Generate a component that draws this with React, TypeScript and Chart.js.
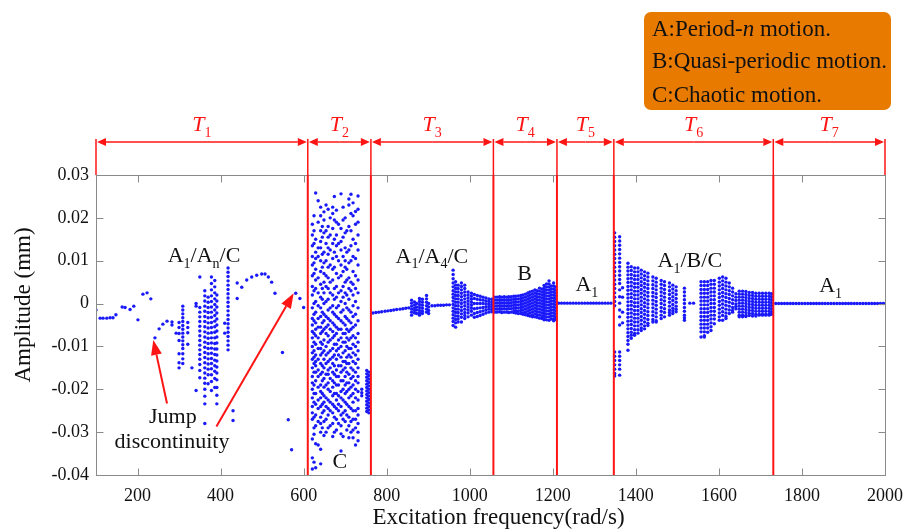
import React, { useEffect, useRef } from 'react';
import { Chart, registerables } from 'chart.js';

Chart.register(...registerables);

const FONT = "'Liberation Serif', 'Times New Roman', Times, serif";

// ---------- axes ----------
const xTickValues = [200, 400, 600, 800, 1000, 1200, 1400, 1600, 1800, 2000];
const xTickLabels = ['200', '400', '600', '800', '1000', '1200', '1400', '1600', '1800', '2000'];
const yTickValues = [-0.04, -0.03, -0.02, -0.01, 0, 0.01, 0.02, 0.03];
const yTickLabels = ['-0.04', '-0.03', '-0.02', '-0.01', '0', '0.01', '0.02', '0.03'];

// ---------- regions T1..T7 (boundaries in rad/s) ----------
const regionBounds = [100, 610, 762, 1057, 1210, 1347, 1731, 2000];
const regionIndex = ['1', '2', '3', '4', '5', '6', '7'];

// ---------- bifurcation data: amplitude values in 1e-3 mm, one list per frequency ----------
const t1X = [100, 110, 117, 126, 134, 141, 148, 163, 170, 182, 191, 201, 213, 223, 232, 242, 252, 261, 271, 283, 293, 300, 309, 321, 331, 341, 350, 362, 370, 378, 386, 391, 410, 418, 430, 440, 451, 463, 475, 487, 499, 507, 515, 523, 531, 549, 563, 571, 581, 591, 600];
const t1Y = [
  [-1.5], [-3.4], [-3.4], [-3.4], [-3.3], [-3.3], [-2.6], [-0.8], [-0.9], [-1.4], [-0.6], [-3.8],
  [2.2], [2.5], [1.1], [-8.0], [-5.9], [-4.8], [-4.1], [-4.3, -5.0], [-6.9],
  [-4.4, -5.6, -7.0, -8.6, -11.7, -13.8, -15.0],
  [-0.6, -1.5, -2.4, -3.3, -4.2, -5.1, -6.0, -6.9, -7.8, -8.7, -9.6, -10.5, -11.7, -12.9, -14.0],
  [-4.4, -5.6, -6.8, -9.5],
  [-15.0],
  [0.0, -0.6, -20.3],
  [6.2, -0.9, -2.0, -3.1, -4.2, -5.3, -6.4, -7.5, -8.6, -9.7, -10.8, -11.9, -13.0, -14.2, -15.6, -17.3],
  [3.0, 1.8, 0.6, -0.6, -1.8, -3.0, -4.2, -5.4, -6.6, -7.8, -9.0, -10.2, -11.4, -12.6, -13.8, -15.0, -16.2, -17.4, -18.6, -20.0, -21.6, -23.4, -28.0],
  [1.5, 0.3, -0.9, -2.1, -3.3, -4.5, -5.7, -6.9, -8.1, -9.3, -10.5, -11.7, -12.9, -14.1, -15.3, -16.6, -18.7],
  [6.2, 4.7, 3.2, 1.8, 0.5, -0.8, -2.0, -3.2, -4.4, -5.6, -6.8, -8.0, -9.2, -10.4, -11.6, -12.8, -14.0, -15.2, -16.6, -18.2, -20.3],
  [5.4, 3.9, 2.5, 1.1, -0.2, -1.5, -2.8, -4.1, -5.4, -6.7, -8.0, -9.3, -10.6, -11.9, -13.2, -14.5, -15.8, -17.5, -19.6],
  [2.0, 0.6, -0.8, -2.2, -3.6, -5.0, -6.4, -7.8, -9.2, -10.6, -12.0, -13.4, -14.8, -16.2, -17.8, -19.6, -21.4, -23.4],
  [-4.6, -6.9],
  [8.3, 7.3, 6.3, 5.3, 4.3, 3.3, 2.3, 1.3, 0.3, -0.7, -1.7, -2.7, -3.7, -4.7, -5.7, -6.7, -7.7, -8.7, -9.7, -10.8],
  [-25.0, -27.3],
  [4.8, 1.2],
  [3.8], [5.5], [6.2], [6.6], [6.9], [6.9], [6.2], [5.0], [2.4],
  [-11.4], [-27.1], [-34.1], [2.4], [1.2], [-0.9],
];

const t2X = [621, 625, 629, 635, 641, 645, 649, 654, 659, 664, 670, 674, 679, 684, 690, 695, 700, 704, 709, 714, 719, 725, 731, 740, 752, 757];
const t2Y = [
  [18.5, 16.0, 13.5, 11.0, 9.0, 6.5, 4.0, 2.0, -1.0, -3.5, -5.0, -6.5, -8.0, -10.0, -11.5, -13.0, -15.0, -17.0, -18.5, -20.0, -22.0, -24.0, -25.5, -27.0, -31.6, -36.0, -38.6],
  [20.5, 17.0, 14.0, 9.5, 7.0, 3.0, 0.0, -2.5, -4.0, -7.0, -9.0, -11.0, -12.5, -14.0, -16.0, -19.0, -21.0, -23.0, -26.5, -29.0, -30.5, -37.0],
  [25.8, 15.0, 12.0, 10.5, 8.0, 5.5, 3.5, 0.5, -2.0, -4.5, -6.0, -7.5, -9.5, -12.0, -13.5, -14.5, -16.0, -18.0, -21.0, -23.5, -26.0, -28.5, -32.7, -38.3],
  [24.0, 19.0, 13.0, 11.0, 6.0, 2.5, -0.5, -3.5, -5.5, -8.0, -10.5, -13.0, -15.5, -17.0, -19.5, -22.5, -24.5, -27.5, -33.0],
  [22.5, 20.5, 17.0, 14.5, 13.0, 10.0, 7.5, 4.5, 1.5, -1.0, -3.0, -5.5, -7.0, -9.0, -10.5, -12.0, -14.0, -16.5, -19.0, -20.5, -22.0, -24.0, -26.5, -28.0, -30.0, -34.0, -37.4],
  [18.0, 15.5, 11.5, 8.5, 3.5, 1.0, -2.0, -4.5, -6.5, -9.5, -11.5, -14.5, -16.0, -18.0, -21.0, -23.5, -25.5, -29.0],
  [21.4, 19.5, 16.5, 12.0, 9.5, 7.0, 5.0, 2.5, 0.0, -2.5, -4.0, -6.0, -8.5, -11.0, -13.0, -15.0, -17.5, -19.5, -21.5, -23.0, -25.0, -27.5, -30.8],
  [23.0, 17.0, 14.0, 10.0, 6.5, 4.0, 0.5, -3.0, -5.5, -7.0, -10.0, -12.0, -14.0, -16.5, -19.0, -22.0, -24.0, -27.0, -30.0],
  [22.0, 18.0, 15.5, 13.0, 11.5, 8.5, 6.0, 3.5, 1.0, -1.5, -3.5, -5.0, -7.5, -9.0, -11.5, -13.5, -15.5, -16.5, -18.5, -20.0, -22.5, -24.5, -26.0, -29.0],
  [20.0, 16.0, 12.5, 9.0, 5.0, 2.5, -1.0, -4.0, -6.0, -8.5, -11.0, -13.0, -15.0, -17.5, -20.5, -23.0, -25.0, -28.5],
  [22.5, 21.0, 17.5, 14.0, 10.5, 8.0, 5.5, 2.0, -0.5, -2.0, -4.5, -6.5, -8.0, -10.5, -12.5, -14.0, -16.0, -18.0, -19.5, -21.5, -23.5, -25.5, -28.0, -31.0],
  [25.0, 19.5, 15.0, 12.0, 8.5, 3.5, 1.0, -2.5, -5.0, -7.5, -9.5, -12.0, -14.5, -16.5, -18.5, -21.0, -24.0, -26.5, -30.0],
  [21.8, 19.0, 16.0, 13.5, 11.0, 7.0, 4.0, 1.5, -1.0, -3.0, -5.5, -7.0, -9.5, -11.0, -13.0, -15.5, -17.0, -19.0, -21.0, -22.5, -24.5, -27.0, -29.5],
  [18.5, 14.0, 10.0, 6.0, 2.5, -0.5, -3.5, -6.0, -8.5, -10.5, -12.0, -14.5, -17.0, -19.0, -21.5, -23.5, -25.0, -28.0],
  [25.6, 17.5, 14.5, 12.5, 9.0, 6.5, 3.0, 0.5, -2.0, -4.0, -6.0, -8.0, -10.0, -12.5, -14.5, -16.0, -18.0, -20.5, -22.0, -24.0, -26.0, -28.5, -30.4, -34.4],
  [22.5, 19.5, 15.5, 11.0, 7.5, 4.0, 1.5, -1.5, -4.5, -7.0, -9.0, -11.5, -13.5, -15.5, -18.0, -20.0, -22.5, -25.5, -27.0, -31.0],
  [20.0, 16.5, 13.0, 10.0, 8.5, 5.0, 2.5, 0.0, -3.0, -5.0, -7.0, -9.0, -11.0, -13.5, -15.0, -17.0, -19.0, -21.0, -23.0, -25.0, -27.5],
  [17.0, 12.0, 8.0, 5.5, 2.0, -1.0, -3.5, -6.0, -8.0, -10.0, -12.5, -14.0, -16.0, -18.5, -20.5, -23.5, -26.0, -29.5],
  [24.4, 23.0, 18.0, 12.5, 9.5, 6.0, 3.5, 1.0, -1.5, -4.0, -6.5, -8.5, -10.5, -12.0, -14.0, -16.5, -18.5, -20.0, -22.0, -24.0, -26.5, -28.5, -31.3],
  [25.5, 21.0, 17.0, 13.5, 10.0, 5.0, 3.0, -2.0, -4.5, -6.0, -8.0, -10.5, -12.5, -15.0, -17.5, -19.5, -21.5, -24.5, -27.5, -30.0],
  [23.5, 20.5, 15.0, 11.0, 7.5, 4.5, 2.0, -0.5, -3.0, -5.5, -7.5, -9.5, -11.5, -13.5, -15.5, -17.0, -19.0, -21.0, -23.0, -25.0, -27.0, -29.5, -31.3],
  [21.5, 18.5, 14.0, 10.5, 6.5, 3.5, 0.5, -2.5, -5.0, -8.0, -10.0, -12.0, -14.0, -16.0, -18.0, -20.0, -22.0, -25.0, -27.0, -29.0, -33.0],
  [25.1, 22.0, 19.0, 16.0, 12.5, 9.0, 5.5, 2.5, -1.0, -4.0, -7.0, -9.0, -11.0, -13.0, -15.0, -17.0, -18.5, -20.5, -22.5, -24.5, -26.0, -28.0, -30.0, -32.0],
  [-20.0, -20.8, -21.5],
  [-15.6, -16.4, -17.2, -18.0, -18.8, -19.6, -20.4, -21.2, -22.0, -22.8, -23.6, -24.4, -25.2],
  [-16.0, -16.8, -17.6, -18.4, -19.2, -20.0, -20.8, -21.6, -22.4, -23.2, -24.0, -24.8, -25.5],
];

const t3X = [767, 774, 781, 788, 796, 803, 810, 817, 824, 832, 839, 846, 853, 860, 867, 872, 879, 886, 896, 901, 909, 916, 923, 930, 937, 944, 951, 960, 966, 972, 980, 988, 996, 1004, 1011, 1018, 1025, 1032, 1039, 1046, 1053];
const t3Y = [
  [-2.2], [-2.1], [-2.0], [-1.9], [-1.8], [-1.7], [-1.6], [-1.5], [-1.4], [-1.3], [-1.2], [-1.1], [-1.0],
  [0.8, 0.1, -0.6, -1.3, -2.0, -2.7],
  [0.4, -0.3, -1.0, -1.6, -2.2],
  [0.0, -0.8, -1.5, -2.3],
  [1.2, 0.5, -0.2, -0.9, -1.6, -2.2, -2.7],
  [1.0, 0.3, -0.4, -1.1, -1.8, -2.3],
  [1.9, 1.1, 0.3, -0.5, -1.3, -2.0],
  [0.0, -0.8, -1.6, -2.3],
  [-0.5], [-0.5], [-0.4], [-0.4], [-0.4], [-0.3], [-0.3],
  [7.8, 6.8, 5.8, 4.8, 3.9, 3.0, 2.2, 1.4, 0.6, -0.2, -1.0, -1.8, -2.6, -3.4, -4.2, -5.1],
  [5.1, 4.3, 3.5, 2.7, 1.9, 1.1, 0.3, -0.5, -1.3, -2.1, -2.9, -3.7, -4.5, -5.5],
  [4.3, 3.5, 2.7, 1.9, 1.1, 0.3, -0.5, -1.3, -2.1, -2.9, -3.6, -4.3],
  [4.8, 4.0, 3.2, 2.4, 1.6, 0.8, 0.0, -0.8, -1.6, -2.4, -3.2, -4.3],
  [4.3, 3.5, 2.7, 1.9, 1.1, 0.3, -0.5, -1.3, -2.1, -2.8, -3.5],
  [2.7, 2.0, 1.3, 0.6, -0.1, -0.8, -1.5, -2.2, -3.1],
  [2.4, 1.7, 1.0, 0.3, -0.4, -1.1, -1.8, -2.7],
  [2.1, 1.2, 0.0, -1.2, -2.3, -3.2],
  [1.9, 1.0, 0.0, -1.1, -2.1, -3.0],
  [1.7, 0.9, 0.0, -1.0, -1.9, -2.8],
  [1.5, 0.8, 0.0, -0.9, -1.7, -2.5],
  [1.3, 0.6, -0.1, -0.8, -1.5, -2.2],
  [1.1, 0.5, -0.1, -0.7, -1.3, -2.0],
  [1.0, 0.4, -0.2, -0.8, -1.4, -1.9],
];

const t4X = [1060, 1066, 1072, 1077, 1083, 1089, 1094, 1100, 1106, 1111, 1117, 1123, 1128, 1134, 1140, 1145, 1151, 1157, 1162, 1168, 1174, 1179, 1185, 1191, 1196, 1202, 1207];
const t4Y = [
  [1.5, 0.8, 0.1, -0.6, -1.3, -2.0],
  [1.5, 0.8, 0.1, -0.6, -1.3, -2.0],
  [1.6, 0.9, 0.2, -0.5, -1.2, -1.9],
  [1.5, 0.8, 0.1, -0.6, -1.3, -2.1],
  [1.6, 0.9, 0.2, -0.5, -1.2, -2.0],
  [1.5, 0.8, 0.1, -0.6, -1.3, -2.0],
  [1.6, 0.9, 0.2, -0.5, -1.2, -2.1],
  [1.6, 0.9, 0.2, -0.5, -1.2, -2.0],
  [1.7, 1.0, 0.3, -0.4, -1.1, -1.8, -2.1],
  [1.7, 1.0, 0.3, -0.4, -1.1, -1.8, -2.2],
  [1.8, 1.1, 0.4, -0.3, -1.0, -1.7, -2.3],
  [1.9, 1.2, 0.5, -0.2, -0.9, -1.6, -2.3],
  [2.0, 1.3, 0.6, -0.1, -0.8, -1.5, -2.2, -2.5],
  [2.2, 1.5, 0.8, 0.1, -0.6, -1.3, -2.0, -2.6],
  [2.5, 1.8, 1.1, 0.4, -0.3, -1.0, -1.7, -2.4, -2.8],
  [2.7, 2.0, 1.3, 0.6, -0.1, -0.8, -1.5, -2.2, -2.9],
  [2.9, 2.2, 1.5, 0.8, 0.1, -0.6, -1.3, -2.0, -2.7, -3.1],
  [3.2, 2.5, 1.8, 1.1, 0.4, -0.3, -1.0, -1.7, -2.4, -3.1],
  [3.0, 2.3, 1.6, 0.9, 0.2, -0.5, -1.2, -1.9, -2.6, -3.2],
  [3.6, 2.9, 2.2, 1.5, 0.8, 0.1, -0.6, -1.3, -2.0, -2.7, -3.4],
  [3.4, 2.7, 2.0, 1.3, 0.6, -0.1, -0.8, -1.5, -2.2, -2.9, -3.5],
  [4.2, 3.5, 2.8, 2.1, 1.4, 0.7, 0.0, -0.7, -1.4, -2.1, -2.8, -3.5, -3.8],
  [4.6, 3.9, 3.2, 2.5, 1.8, 1.1, 0.4, -0.3, -1.0, -1.7, -2.4, -3.1, -3.8],
  [5.3, 4.6, 3.9, 3.2, 2.5, 1.8, 1.1, 0.4, -0.3, -1.0, -1.7, -2.4, -3.1, -3.9],
  [4.1, 3.4, 2.7, 2.0, 1.3, 0.6, -0.1, -0.8, -1.5, -2.2, -2.9, -3.6],
  [4.8, 4.1, 3.4, 2.7, 2.0, 1.3, 0.6, -0.1, -0.8, -1.5, -2.2, -2.9, -3.6, -4.0],
  [3.9, 3.2, 2.5, 1.8, 1.1, 0.4, -0.3, -1.0, -1.7, -2.4, -3.1, -3.7],
];

const t5X = [1214, 1221, 1228, 1235, 1242, 1249, 1256, 1263, 1270, 1277, 1284, 1291, 1298, 1305, 1312, 1319, 1326, 1333, 1340];
const t5Y = [0.1, 0.1, 0.1, 0.1, 0.1, 0.1, 0.1, 0.1, 0.1, 0.1, 0.1, 0.1, 0.1, 0.1, 0.1, 0.1, 0.1, 0.1, 0.1];

const t6X = [1349, 1361, 1368, 1381, 1389, 1397, 1405, 1413, 1421, 1429, 1441, 1449, 1461, 1469, 1481, 1489, 1497, 1517, 1530, 1539, 1557, 1565, 1573, 1581, 1589, 1601, 1609, 1617, 1625, 1633, 1641, 1649, 1657, 1665, 1673, 1681, 1689, 1697, 1705, 1713, 1721, 1727];
const t6Y = [
  [16.5, 15.5, 14.5, 13.5, 12.5, 11.5, 10.5, 9.5, 8.5, 7.5, 6.5, 5.5, 4.5, 3.5, 2.5, 1.5, 0.5, -0.5, -11.3, -12.3, -13.3, -14.3, -15.3, -16.3, -16.9],
  [15.6, 14.6, 13.6, 12.6, 11.6, 10.6, 9.6, 8.6, 7.6, 6.6, 5.6, 4.7, 3.2, 1.6, 0.1, -1.5, -3.1, -5.0, -11.3, -12.3, -13.3, -14.3, -15.3, -16.7],
  [3.7, 1.5, -2.0, -4.5],
  [9.4, 8.5, 7.6, 6.7, 5.8, 4.9, 4.0, 3.1, 2.2, 1.3, 0.4, -0.5, -1.4, -2.3, -3.2, -4.1, -5.0, -5.9, -6.8, -7.7, -8.6, -9.5, -10.9],
  [8.6, 7.7, 6.8, 5.9, 5.0, 4.1, 3.2, 2.3, 1.4, 0.5, -0.4, -1.3, -2.2, -3.1, -4.0, -4.9, -5.8, -6.7, -7.4, -8.1],
  [8.3, 7.4, 6.5, 5.6, 4.7, 3.8, 2.9, 2.0, 1.1, 0.2, -0.7, -1.6, -2.5, -3.4, -4.3, -5.2, -6.1, -7.0, -7.4],
  [8.3, 7.4, 6.5, 5.6, 4.7, 3.8, 2.9, 2.0, 1.1, 0.2, -0.7, -1.6, -2.5, -3.4, -4.3, -5.2, -6.1, -6.9],
  [7.8, 6.9, 6.0, 5.1, 4.2, 3.3, 2.4, 1.5, 0.6, -0.3, -1.2, -2.1, -3.0, -3.9, -4.8, -5.7, -6.3],
  [7.4, 6.5, 5.6, 4.7, 3.8, 2.9, 2.0, 1.1, 0.2, -0.7, -1.6, -2.5, -3.4, -4.3, -5.2, -5.9],
  [7.1, 6.2, 5.3, 4.4, 3.5, 2.6, 1.7, 0.8, -0.1, -1.0, -1.9, -2.8, -3.7, -4.6, -5.1],
  [6.2, 5.3, 4.4, 3.5, 2.6, 1.7, 0.8, -0.1, -1.0, -1.9, -2.8, -3.7, -4.3],
  [5.9, 5.0, 4.1, 3.2, 2.3, 1.4, 0.5, -0.4, -1.3, -2.2, -3.1, -4.0, -4.3],
  [5.4, 4.5, 3.6, 2.7, 1.8, 0.9, 0.0, -0.9, -1.8, -2.7, -3.5],
  [5.1, 4.2, 3.3, 2.4, 1.5, 0.6, -0.3, -1.2, -2.1, -3.1],
  [4.8, 3.9, 3.0, 2.1, 1.2, 0.3, -0.6, -1.5, -2.1, -2.7],
  [4.3, 3.4, 2.5, 1.6, 0.7, -0.2, -1.1, -1.7, -2.3],
  [3.9, 3.0, 2.1, 1.2, 0.3, -0.6, -1.3, -1.9],
  [3.6, 2.7, 1.8, 0.9, 0.0, -0.9, -1.8, -2.7, -3.3, -3.9],
  [0.1], [0.1],
  [5.1, 4.2, 3.3, 2.4, 1.5, 0.6, -0.3, -1.2, -2.1, -3.0, -3.9, -4.8, -5.7, -6.6, -7.8],
  [5.1, 4.2, 3.3, 2.4, 1.5, 0.6, -0.3, -1.2, -2.1, -3.0, -3.9, -4.8, -5.7, -6.6, -7.5, -7.8],
  [5.1, 4.2, 3.3, 2.4, 1.5, 0.6, -0.3, -1.2, -2.1, -3.0, -3.9, -4.8, -5.7, -6.7],
  [5.4, 4.5, 3.6, 2.7, 1.8, 0.9, 0.0, -0.9, -1.8, -2.7, -3.6, -4.5, -5.4, -6.3],
  [5.4, 4.5, 3.6, 2.7, 1.8, 0.9, 0.0, -0.9, -1.8, -2.7, -3.6, -4.7],
  [5.9, 5.0, 4.1, 3.2, 2.3, 1.4, 0.5, -0.4, -1.3, -2.2, -3.1, -3.9],
  [6.2, 5.3, 4.4, 3.5, 2.6, 1.7, 0.8, -0.1, -1.0, -1.9, -2.8, -3.9],
  [5.9, 5.0, 4.1, 3.2, 2.3, 1.4, 0.5, -0.4, -1.3, -2.2, -3.0, -3.5],
  [4.8, 3.9, 3.0, 2.1, 1.2, 0.3, -0.6, -1.5, -2.3],
  [3.6, 2.7, 1.8, 0.9, 0.0, -0.9, -1.6, -2.0],
  [2.3, 1.5, 0.7, -0.1, -0.7, -1.2],
  [2.9, 2.2, 1.5, 0.8, 0.1, -0.6, -1.3, -2.0, -2.7, -3.1],
  [2.9, 2.2, 1.5, 0.8, 0.1, -0.6, -1.3, -2.0, -2.7, -3.1],
  [2.8, 2.1, 1.4, 0.7, 0.0, -0.7, -1.4, -2.1, -2.8, -3.0],
  [2.6, 1.9, 1.2, 0.5, -0.2, -0.9, -1.6, -2.3, -2.8],
  [2.6, 1.9, 1.2, 0.5, -0.2, -0.9, -1.6, -2.3, -2.9],
  [2.4, 1.7, 1.0, 0.3, -0.4, -1.1, -1.8, -2.5, -2.9],
  [2.4, 1.7, 1.0, 0.3, -0.4, -1.1, -1.8, -2.5, -2.7],
  [2.4, 1.7, 1.0, 0.3, -0.4, -1.1, -1.8, -2.5, -2.7],
  [2.4, 1.7, 1.0, 0.3, -0.4, -1.1, -1.8, -2.5, -2.7],
  [2.4, 1.7, 1.0, 0.3, -0.4, -1.1, -1.8, -2.4, -2.7],
  [2.3, 1.6, 0.9, 0.2, -0.5, -1.2, -1.9, -2.5],
];

const t7X = [1737, 1744, 1751, 1758, 1765, 1772, 1779, 1786, 1793, 1800, 1807, 1814, 1821, 1828, 1835, 1842, 1849, 1856, 1863, 1870, 1877, 1884, 1891, 1898, 1905, 1912, 1919, 1926, 1933, 1940, 1947, 1954, 1961, 1968, 1975, 1982, 1989, 1996];
const t7Y = [0, 0, 0, 0, 0, 0, 0, 0, 0, 0, 0, 0, 0, 0, 0, 0, 0, 0, 0, 0, 0, 0, 0, 0, 0, 0, 0, 0, 0, 0, 0, 0, 0, 0, 0, 0, 0, 0];

// ---------- text ----------
const xTitle = 'Excitation frequency(rad/s)';
const yTitle = 'Amplitude (mm)';

type Seg = { t: string; sub?: boolean; it?: boolean };

function columnsToPoints(xs: number[], ys: number[][]) {
  const pts: { x: number; y: number }[] = [];
  xs.forEach((x, i) => (ys[i] || []).forEach((v) => pts.push({ x, y: v / 1000 })));
  return pts;
}
function lineToPoints(xs: number[], ys: number[]) {
  return xs.map((x, i) => ({ x, y: ys[i] / 1000 }));
}

function drawRich(ctx: CanvasRenderingContext2D, segs: Seg[], x: number, baseline: number, size: number, color: string, align: 'center' | 'left') {
  const fontFor = (s: Seg) => `${s.it ? 'italic ' : ''}${s.sub ? Math.round(size * 0.62) : size}px ${FONT}`;
  let w = 0;
  for (const s of segs) {
    ctx.font = fontFor(s);
    w += ctx.measureText(s.t).width;
  }
  let cx = align === 'center' ? x - w / 2 : x;
  ctx.fillStyle = color;
  ctx.textAlign = 'left';
  ctx.textBaseline = 'alphabetic';
  for (const s of segs) {
    ctx.font = fontFor(s);
    ctx.fillText(s.t, cx, baseline + (s.sub ? size * 0.25 : 0));
    cx += ctx.measureText(s.t).width;
  }
}

function arrow(ctx: CanvasRenderingContext2D, x1: number, y1: number, x2: number, y2: number, headLen: number, headHalf: number) {
  const ang = Math.atan2(y2 - y1, x2 - x1);
  const bx = x2 - headLen * Math.cos(ang);
  const by = y2 - headLen * Math.sin(ang);
  ctx.beginPath();
  ctx.moveTo(x1, y1);
  ctx.lineTo(bx, by);
  ctx.stroke();
  ctx.beginPath();
  ctx.moveTo(x2, y2);
  ctx.lineTo(bx + headHalf * Math.sin(ang), by - headHalf * Math.cos(ang));
  ctx.lineTo(bx - headHalf * Math.sin(ang), by + headHalf * Math.cos(ang));
  ctx.closePath();
  ctx.fill();
}

const RED = 'rgb(255,20,20)';

const annotations: { segs: Seg[]; x: number; y: number }[] = [
  { segs: [{ t: 'A' }, { t: '1', sub: true }, { t: '/A' }, { t: 'n', sub: true }, { t: '/C' }], x: 360, y: 0.0097 },
  { segs: [{ t: 'A' }, { t: '1', sub: true }, { t: '/A' }, { t: '4', sub: true }, { t: '/C' }], x: 909, y: 0.0095 },
  { segs: [{ t: 'B' }], x: 1132, y: 0.0055 },
  { segs: [{ t: 'A' }, { t: '1', sub: true }], x: 1282, y: 0.0029 },
  { segs: [{ t: 'A' }, { t: '1', sub: true }, { t: '/B/C' }], x: 1530, y: 0.0085 },
  { segs: [{ t: 'A' }, { t: '1', sub: true }], x: 1869, y: 0.0027 },
  { segs: [{ t: 'C' }], x: 687, y: -0.0384 },
  { segs: [{ t: 'Jump' }], x: 285, y: -0.0279 },
  { segs: [{ t: 'discontinuity' }], x: 283, y: -0.0337 },
];

const jumpArrows = [
  { from: [271, -0.0233], to: [238, -0.0085] },
  { from: [390, -0.0287], to: [576, 0.0024] },
];

const legendLines: Seg[][] = [
  [{ t: 'A:Period-' }, { t: 'n', it: true }, { t: ' motion.' }],
  [{ t: 'B:Quasi-periodic motion.' }],
  [{ t: 'C:Chaotic motion.' }],
];

const decorPlugin = {
  id: 'decor',
  afterDraw(chart: any) {
    const { ctx, chartArea: a, scales } = chart;
    const xs = scales.x;
    const ys = scales.y;
    ctx.save();

    // frame and inward ticks
    ctx.strokeStyle = '#8a8a8a';
    ctx.lineWidth = 1;
    const L = Math.round(a.left) + 0.5;
    const R = Math.round(a.right) + 0.5;
    const T = Math.round(a.top) + 0.5;
    const B = Math.round(a.bottom) + 0.5;
    ctx.strokeRect(L, T, R - L, B - T);
    ctx.beginPath();
    xTickValues.forEach((v) => {
      const px = Math.round(xs.getPixelForValue(v)) + 0.5;
      ctx.moveTo(px, B);
      ctx.lineTo(px, B - 7);
      ctx.moveTo(px, T);
      ctx.lineTo(px, T + 7);
    });
    yTickValues.forEach((v) => {
      const py = Math.round(ys.getPixelForValue(v)) + 0.5;
      ctx.moveTo(L, py);
      ctx.lineTo(L + 7, py);
      ctx.moveTo(R, py);
      ctx.lineTo(R - 7, py);
    });
    ctx.stroke();

    // region boundaries and arrows
    const rowY = 142;
    ctx.strokeStyle = RED;
    ctx.fillStyle = RED;
    regionBounds.forEach((b, i) => {
      const px = xs.getPixelForValue(b);
      const outer = i === 0 || i === regionBounds.length - 1;
      ctx.lineWidth = 1.5;
      ctx.beginPath();
      ctx.moveTo(px, rowY - 3);
      ctx.lineTo(px, a.top);
      ctx.stroke();
      if (!outer) {
        ctx.lineWidth = 2;
        ctx.beginPath();
        ctx.moveTo(px, a.top);
        ctx.lineTo(px, a.bottom);
        ctx.stroke();
      }
    });
    ctx.lineWidth = 1.5;
    for (let i = 0; i < regionBounds.length - 1; i++) {
      const p1 = xs.getPixelForValue(regionBounds[i]) + 1;
      const p2 = xs.getPixelForValue(regionBounds[i + 1]) - 1;
      const mid = (p1 + p2) / 2;
      arrow(ctx, mid, rowY, p1, rowY, 9, 4);
      arrow(ctx, mid, rowY, p2, rowY, 9, 4);
      drawRich(ctx, [{ t: 'T', it: true }, { t: regionIndex[i], sub: true }], mid, 131, 22, RED, 'center');
    }

    // jump discontinuity arrows
    ctx.strokeStyle = RED;
    ctx.fillStyle = RED;
    ctx.lineWidth = 2;
    jumpArrows.forEach((ar) => {
      arrow(
        ctx,
        xs.getPixelForValue(ar.from[0]),
        ys.getPixelForValue(ar.from[1]),
        xs.getPixelForValue(ar.to[0]),
        ys.getPixelForValue(ar.to[1]),
        15,
        5.5
      );
    });

    // annotations
    annotations.forEach((an) => {
      drawRich(ctx, an.segs, xs.getPixelForValue(an.x), ys.getPixelForValue(an.y), 22, '#111', 'center');
    });

    // legend box
    ctx.fillStyle = 'rgb(232,122,0)';
    ctx.beginPath();
    (ctx as any).roundRect(644, 12, 247, 98, 7);
    ctx.fill();
    const bases = [36, 68, 102];
    legendLines.forEach((segs, i) => drawRich(ctx, segs, 652, bases[i], 23, '#111', 'left'));

    // axis titles
    ctx.fillStyle = '#111';
    ctx.font = `23px ${FONT}`;
    ctx.textAlign = 'center';
    ctx.textBaseline = 'alphabetic';
    ctx.fillText(xTitle, (a.left + a.right) / 2 + 8, 524);
    ctx.save();
    ctx.translate(24, 305);
    ctx.rotate(-Math.PI / 2);
    ctx.textBaseline = 'middle';
    ctx.fillText(yTitle, 0, 0);
    ctx.restore();

    ctx.restore();
  },
};

export default function App() {
  const ref = useRef<HTMLCanvasElement>(null);
  useEffect(() => {
    const points = [
      ...columnsToPoints(t1X, t1Y),
      ...columnsToPoints(t2X, t2Y),
      ...columnsToPoints(t3X, t3Y),
      ...columnsToPoints(t4X, t4Y),
      ...lineToPoints(t5X, t5Y),
      ...columnsToPoints(t6X, t6Y),
      ...lineToPoints(t7X, t7Y),
    ];
    const chart = new Chart(ref.current as HTMLCanvasElement, {
      type: 'scatter',
      data: {
        datasets: [
          {
            data: points,
            pointRadius: 1.7,
            pointHoverRadius: 1.7,
            pointBackgroundColor: 'rgb(25,25,250)',
            pointBorderWidth: 0,
            showLine: false,
          },
        ],
      },
      options: {
        responsive: false,
        animation: false,
        layout: { padding: { left: 0, right: 32, top: 175, bottom: 0 } },
        plugins: { legend: { display: false }, tooltip: { enabled: false } },
        scales: {
          x: {
            type: 'linear',
            min: 100,
            max: 2000,
            afterBuildTicks: (s: any) => {
              s.ticks = xTickValues.map((v) => ({ value: v }));
            },
            afterFit: (s: any) => {
              s.height = 56;
            },
            grid: { display: false, drawTicks: false },
            border: { display: false },
            ticks: {
              color: '#111',
              padding: 10,
              maxRotation: 0,
              autoSkip: false,
              font: { family: FONT, size: 18 },
              callback: (_v: any, i: number) => xTickLabels[i],
            },
          },
          y: {
            type: 'linear',
            min: -0.04,
            max: 0.03,
            afterBuildTicks: (s: any) => {
              s.ticks = yTickValues.map((v) => ({ value: v }));
            },
            afterFit: (s: any) => {
              s.width = 96;
            },
            grid: { display: false, drawTicks: false },
            border: { display: false },
            ticks: {
              color: '#111',
              padding: 7,
              autoSkip: false,
              font: { family: FONT, size: 18 },
              callback: (_v: any, i: number) => yTickLabels[i],
            },
          },
        },
      },
      plugins: [decorPlugin],
    } as any);
    return () => chart.destroy();
  }, []);
  return (
    <div style={{ position: 'fixed', left: 0, top: 0, width: 917, height: 531, background: '#fff' }}>
      <canvas ref={ref} width={917} height={531} style={{ width: 917, height: 531, display: 'block' }} />
    </div>
  );
}
